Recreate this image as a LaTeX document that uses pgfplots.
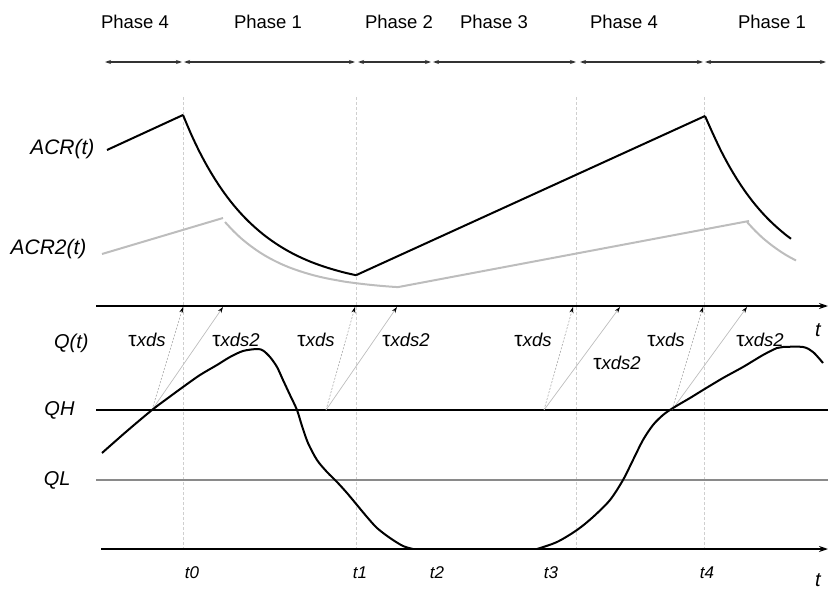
\documentclass[border=0pt]{standalone}
\usepackage{fontspec}
\setmainfont{Liberation Sans}
\usepackage{pgfplots}
\pgfplotsset{compat=1.18}
\usetikzlibrary{arrows.meta}
\definecolor{acrtwo}{HTML}{BDBDBD}
\definecolor{qlgray}{HTML}{8A8A8A}
\definecolor{vgray}{HTML}{CFCFCF}
\definecolor{agray}{HTML}{A8A8A8}
\begin{document}
\begin{tikzpicture}
\begin{axis}[x=1pt, y=1pt, xmin=0, xmax=828, ymin=0, ymax=589, y dir=reverse,
  hide axis, clip=false, scale only axis]
\coordinate (LL) at (axis cs:0,589);
\coordinate (UR) at (axis cs:828,0);
% phase arrows
\pgfplotsset{phar/.style={line width=1.1pt, black!80, {Stealth[length=6pt,width=4pt]}-{Stealth[length=6pt,width=4pt]}}}
\addplot[phar] coordinates {(105,62) (182,62)};
\addplot[phar] coordinates {(184,62) (355,62)};
\addplot[phar] coordinates {(358,62) (431,62)};
\addplot[phar] coordinates {(433,62) (576,62)};
\addplot[phar] coordinates {(580,62) (703,62)};
\addplot[phar] coordinates {(705,62) (826,62)};
% vertical dashed lines
\pgfplotsset{vdash/.style={vgray, line width=0.8pt, dash pattern=on 3pt off 2pt}}
\addplot[vdash] coordinates {(183,97) (183,548)};
\addplot[vdash] coordinates {(356,97) (356,548)};
\addplot[vdash] coordinates {(576,97) (576,548)};
\addplot[vdash] coordinates {(704,97) (704,548)};
% QH, QL lines
\addplot[black, line width=1.1pt] coordinates {(96,410) (828,410)};
\addplot[qlgray, line width=1.3pt] coordinates {(96,480) (828,480)};
% axes
\addplot[black, line width=2.2pt, -{Stealth[length=9pt,width=6pt]}] coordinates {(96,306) (828,306)};
\addplot[black, line width=2.2pt, -{Stealth[length=9pt,width=6pt]}] coordinates {(101,549) (828,549)};
% ACR2(t)
\pgfplotsset{acr2/.style={acrtwo, line width=2pt}}
\addplot[acr2] coordinates {(102,254) (223,218)};
\addplot[acr2, smooth] coordinates {(225,222) (233,230.6) (241,238.2) (249,244.7) (257,250.5) (265,255.6) (273,260.0) (281,263.9) (289,267.3) (297,270.2) (305,272.8) (313,275.1) (321,277.1) (329,278.8) (337,280.3) (345,281.7) (353,282.8) (361,283.8) (369,284.7) (377,285.5) (385,286.2) (393,286.8) (398,287.1)};
\addplot[acr2] coordinates {(398,287.1) (749,221)};
\addplot[acr2, smooth] coordinates {(747,222) (755,230.6) (763,238.2) (771,244.7) (779,250.5) (787,255.6) (796,260.5)};
% ACR(t)
\pgfplotsset{acr/.style={black, line width=2pt}}
\addplot[acr] coordinates {(107,150) (183,115)};
\addplot[acr, smooth] coordinates {(183,115) (191,133.9) (199,150.8) (207,165.8) (215,179.2) (223,191.2) (231,201.9) (239,211.4) (247,219.9) (255,227.4) (263,234.2) (271,240.2) (279,245.6) (287,250.4) (295,254.7) (303,258.5) (311,261.9) (319,264.9) (327,267.6) (335,270.0) (343,272.2) (351,274.1) (356,275.2)};
\addplot[acr] coordinates {(356,275.2) (705,116)};
\addplot[acr, smooth] coordinates {(705,116) (713,133.9) (721,150.8) (729,165.8) (737,179.2) (745,191.2) (753,201.9) (761,211.4) (769,219.9) (777,227.4) (785,234.2) (791,238.8)};
% tau arrows
\pgfplotsset{tds/.style={agray, line width=0.6pt, dash pattern=on 2pt off 1.5pt, -{Stealth[length=6pt,width=4pt,black]}},
             tds2/.style={acrtwo, line width=0.7pt, -{Stealth[length=6pt,width=4pt,black]}}}
\addplot[tds] coordinates {(152,410) (183,307)};
\addplot[tds2] coordinates {(152,410) (223,307)};
\addplot[tds] coordinates {(326,410) (355,307)};
\addplot[tds2] coordinates {(326,410) (397,307)};
\addplot[tds] coordinates {(544,410) (573,307)};
\addplot[tds2] coordinates {(544,410) (620,307)};
\addplot[tds] coordinates {(672,410) (703,307)};
\addplot[tds2] coordinates {(672,410) (747,307)};
% Q(t)
\addplot[black, line width=2pt, smooth] coordinates {
(102,453) (127,431) (152,410) (168,398) (183,387) (200,375) (217,365) (230,357) (243,351) (257,349) (263,350.5) (270,357) (277,367) (283,380) (290,395) (297,410) (302,426) (308,443) (317,460) (327,472) (337,482) (347,493) (357,505) (367,517) (377,528) (390,538) (403,546) (413,549)};
\addplot[black, line width=2pt] coordinates {(413,549) (537,549)};
\addplot[black, line width=2pt, smooth] coordinates {
(537,549) (557,542) (577,530) (593,517) (610,500) (623,480) (633,460) (643,440) (653,425) (663,415) (673,408) (690,398) (703,390) (723,378) (743,367) (763,355) (777,348) (783,347) (803,347) (813,352) (823,363)};
% texts
\foreach \x/\t in {135/4, 268/1, 399/2, 494/3, 624/4, 772/1}{
  \edef\tmp{\noexpand\node[font=\noexpand\fontsize{18.5}{20}\noexpand\selectfont] at (axis cs:\x,22) {Phase \t};}\tmp
}
\node[font=\fontsize{21}{24}\selectfont\itshape, anchor=east] at (axis cs:98,149) {ACR(t)};
\node[font=\fontsize{21}{24}\selectfont\itshape, anchor=east] at (axis cs:90,249) {ACR2(t)};
\node[font=\fontsize{20}{24}\selectfont\itshape, anchor=east] at (axis cs:92,343) {Q(t)};
\node[font=\fontsize{20}{24}\selectfont\itshape, anchor=east] at (axis cs:78,410) {QH};
\node[font=\fontsize{20}{24}\selectfont\itshape, anchor=east] at (axis cs:74,480) {QL};
\node[font=\fontsize{20}{24}\selectfont\itshape] at (axis cs:818,330) {t};
\node[font=\fontsize{20}{24}\selectfont\itshape] at (axis cs:818,580) {t};
\foreach \x/\t in {192/0, 360/1, 437/2, 551/3, 707/4}{
  \edef\tmp{\noexpand\node[font=\noexpand\fontsize{17}{20}\noexpand\selectfont\noexpand\itshape] at (axis cs:\x,573) {t\t};}\tmp
}
\foreach \x/\y/\s in {147/340/, 236/340/2, 316/340/, 406/340/2, 533/340/, 617/363/2, 666/340/, 760/340/2}{
  \edef\tmp{\noexpand\node[font=\noexpand\fontsize{18.5}{20}\noexpand\selectfont] at (axis cs:\x,\y) {{\noexpand\fontsize{21}{20}\noexpand\selectfont τ}\noexpand\textit{xds\s}};}\tmp
}
\end{axis}
\pgfresetboundingbox
\path (LL) rectangle (UR);
\end{tikzpicture}
\end{document}
